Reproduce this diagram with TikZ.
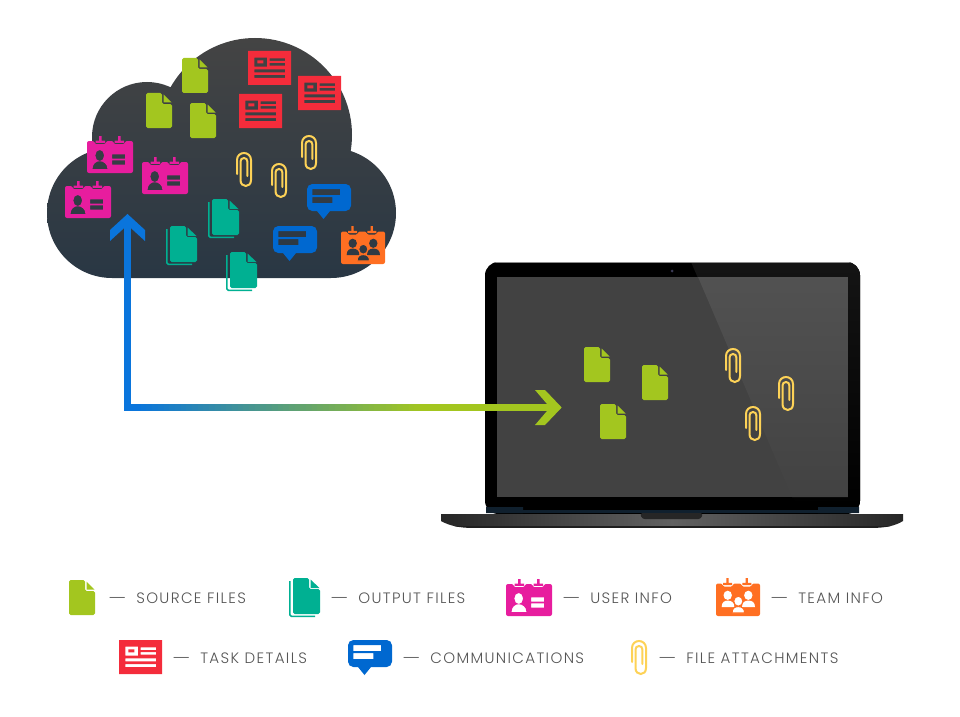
\documentclass[tikz,border=0pt]{standalone}
\usepackage{fontspec}
\newfontfamily\legendfont[LetterSpace=9,UprightFont=* Light]{Poppins}
\newcommand{\legdash}{\scalebox{1.4}[1]{—}\hspace{7.6pt}}
\definecolor{srcgreen}{HTML}{A3C61F}
\definecolor{outteal}{HTML}{00B092}
\definecolor{userpink}{HTML}{E71D9E}
\definecolor{teamorange}{HTML}{FF6F22}
\definecolor{taskred}{HTML}{F42C3B}
\definecolor{commblue}{HTML}{0068D0}
\definecolor{clipyellow}{HTML}{FDD257}
\definecolor{flowblue}{HTML}{0A75DC}
\definecolor{flowgreen}{HTML}{A3C61F}
\definecolor{legendgray}{HTML}{555555}
\definecolor{cloudtop}{HTML}{444444}
\definecolor{cloudlow}{HTML}{293744}
\definecolor{cloudmid}{HTML}{2F3A44}
\definecolor{hingeblue}{HTML}{10202E}
\definecolor{camdot}{HTML}{3A3A55}
\tikzset{
  legendtext/.style={inner sep=0pt,anchor=base west,text=legendgray,font=\legendfont\fontsize{11.3}{13}\selectfont},
  flowline/.style={line width=5.25pt,line join=miter},
  pics/srcdoc/.style={code={
    \fill[srcgreen,rounded corners=1.2pt] (0,0) -- (16,0) -- (16,11) -- (26,11) -- (26,35) -- (0,35) -- cycle;
    \fill[srcgreen] (17.5,1.5) -- (25.5,9.5) -- (17.5,9.5) -- cycle;
  }},
  pics/outdoc/.style={code={
    \draw[outteal,line width=1.1pt,rounded corners=1.2pt] (0.8,3) -- (0.8,38.4) -- (26,38.4);
    \fill[outteal,rounded corners=1.2pt] (4,0) -- (20,0) -- (20,11) -- (31,11) -- (31,36) -- (4,36) -- cycle;
    \fill[outteal] (21.5,1.5) -- (30.5,10) -- (21.5,10) -- cycle;
  }},
  pics/userbadge/.style={code={
    \fill[userpink,even odd rule]
      [rounded corners=1.5pt] (0,5) -- (7.5,5) -- (7.5,8) -- (19,8) -- (19,5) -- (26.5,5) -- (26.5,8) -- (38,8) -- (38,5) -- (46,5) -- (46,37) -- (0,37) -- cycle
      [sharp corners] (25,18.3) rectangle (38,22.7)
      (25,24.3) rectangle (38,28.7)
      (12.7,19.5) ellipse (4.4 and 5.6)
      (5.5,33) .. controls (5.5,28) and (9,25.2) .. (12.7,25.2) .. controls (16.5,25.2) and (20.5,28) .. (20.5,33) -- cycle;
    \fill[userpink] (12,0) rectangle (14.5,5.5) (8.5,4.6) rectangle (18,6.8) (31,0) rectangle (33.5,5.5) (27.5,4.6) rectangle (37,6.8);
  }},
  pics/teambadge/.style={code={
    \fill[teamorange,rounded corners=1.5pt]
      (0,5.5) -- (6.5,5.5) -- (6.5,8.5) -- (17,8.5) -- (17,5.5) -- (25.5,5.5) -- (25.5,8.5) -- (36,8.5) -- (36,5.5) -- (44,5.5) -- (44,38) -- (0,38) -- cycle;
    \fill[teamorange] (10.3,0) rectangle (12.6,5.5) (7,4.9) rectangle (16,7.1) (29.6,0) rectangle (31.9,5.5) (26.3,4.9) rectangle (35.3,7.1);
    \fill[#1] (11.7,17.3) ellipse (4.2 and 4.6) (32.3,17.3) ellipse (4.2 and 4.6);
    \fill[#1] (5.7,29) .. controls (5.7,24) and (8.5,22.6) .. (11.7,22.6) .. controls (15.2,22.6) and (18.3,24) .. (18.3,29) -- cycle;
    \fill[#1] (26,29) .. controls (26,24) and (29,22.6) .. (32.3,22.6) .. controls (35.8,22.6) and (39,24) .. (39,29) -- cycle;
    \filldraw[fill=#1,draw=teamorange,line width=0.8pt] (16,35) .. controls (16,30) and (19,28.6) .. (22.3,28.6) .. controls (25.6,28.6) and (28.6,30) .. (28.6,35) -- cycle;
    \filldraw[fill=#1,draw=teamorange,line width=0.8pt] (22.3,23.2) ellipse (4.6 and 5);
  }},
  pics/taskcard/.style={code={
    \fill[taskred,even odd rule]
      (0,0) rectangle (43,34)
      (6.3,6.7) rectangle (19,15.7)
      (9.3,9.3) rectangle (15.3,12.3)
      (21.7,7.3) rectangle (37,10)
      (21.7,12) rectangle (37,14.7)
      (6.3,18.3) rectangle (37,21.3)
      (6.3,24) rectangle (37,27);
  }},
  pics/commbubble/.style={code={
    \fill[commblue,even odd rule]
      [rounded corners=4pt] (0,0) -- (44,0) -- (44,27) [sharp corners] -- (23,27) -- (16.5,35) -- (10,27) [rounded corners=4pt] -- (0,27) -- cycle
      [sharp corners] (5.3,5) rectangle (33,11)
      (5.3,13) rectangle (25.3,19);
  }},
  pics/fileclip/.style={code={
    \draw[clipyellow,line width=1.5pt,line cap=round]
      (1,22) -- (1,8) .. controls (1,3.6) and (4.5,1) .. (8,1) .. controls (11.5,1) and (15,3.6) .. (15,8)
      -- (15,28) .. controls (15,32) and (12.5,34) .. (9.8,34) .. controls (7,34) and (4.5,32) .. (4.5,28)
      -- (4.5,9.5) .. controls (4.5,7.5) and (6,6) .. (8,6) .. controls (10,6) and (11.4,7.5) .. (11.4,9.5) -- (11.4,24);
  }},
}
\begin{document}
\begin{tikzpicture}[x=0.75pt,y=-0.75pt]
  \useasboundingbox (0,0) rectangle (960,717);
  % cloud
  \shade[top color=cloudtop,bottom color=cloudlow]
    (255,135) circle (97) (147,137) circle (55) (112,213) circle (65) (331,213) circle (65)
    (331,140) rectangle (112,278);
  \pic (srcA) at (182,58) {srcdoc};
  \pic (srcB) at (146,93) {srcdoc};
  \pic (srcC) at (190,103) {srcdoc};
  \pic (taskA) at (248,51) {taskcard};
  \pic (taskB) at (298,76) {taskcard};
  \pic (taskC) at (239,94) {taskcard};
  \pic (userA) at (87,136) {userbadge};
  \pic (userB) at (142,157) {userbadge};
  \pic (userC) at (65,181) {userbadge};
  \pic (clipA) at (236,152) {fileclip};
  \pic (clipB) at (271,163) {fileclip};
  \pic (clipC) at (301,135) {fileclip};
  \pic (commA) at (307,184) {commbubble};
  \pic (commB) at (273,226) {commbubble};
  \pic (teamA) at (341,226) {teambadge=cloudmid};
  \pic (outA) at (208,199) {outdoc};
  \pic (outB) at (166,226) {outdoc};
  \pic (outC) at (226,252) {outdoc};
  % laptop
  \fill[black,rounded corners=10pt] (485,262) -- (860,262) -- (860,514) -- (485,514) -- cycle;
  \begin{scope}
    \clip[rounded corners=10pt] (485,262) -- (860,262) -- (860,514) -- (485,514) -- cycle;
    \shade[top color=black!92!white,bottom color=black] (691,262) -- (860,262) -- (860,507) -- (797,507) -- cycle;
    \draw[black!45!white,line width=0.8pt] (485,262.5) -- (860,262.5);
  \end{scope}
  \fill[black!74!white] (497,277) rectangle (848,497);
  \shade[top color=black!68!white,bottom color=black!74!white] (698,277) -- (848,277) -- (848,497) -- (792,497) -- cycle;
  \fill[camdot] (672,271) circle (1.5);
  \fill[hingeblue] (486,507) rectangle (523,513) (818,507) rectangle (859,513);
  \fill[hingeblue] (523,509.5) rectangle (818,513);
  \begin{scope}
    \clip (441,514) -- (903,514) -- (903,521) .. controls (895,526) and (885,528) .. (870,528) -- (474,528) .. controls (460,528) and (450,526) .. (441,521) -- cycle;
    \shade[left color=black!85!white,right color=black!85!white,middle color=black!62!white] (441,514) rectangle (903,526);
    \fill[black!88!white] (441,525.5) rectangle (903,528);
  \end{scope}
  \fill[black!85!white,rounded corners=2pt] (640,513) -- (703,513) -- (701,519) -- (642,519) -- cycle;
  \pic (srcD) at (584,347) {srcdoc};
  \pic (srcE) at (642,365) {srcdoc};
  \pic (srcF) at (600,404) {srcdoc};
  \pic (clipD) at (725,348) {fileclip};
  \pic (clipE) at (778,376) {fileclip};
  \pic (clipF) at (745,406) {fileclip};
  % flow between cloud and laptop
  \coordinate (cloudend) at (127.5,225);
  \coordinate (corner) at (127.5,407.5);
  \coordinate (fadestart) at (135,407.5);
  \coordinate (fadeend) at (420,407.5);
  \coordinate (laptopend) at (550,407.5);
  \draw[flowline,flowblue] (cloudend) -- (corner) -- (fadestart);
  \foreach \p [evaluate=\p as \x using 135+2.85*\p] in {0,2,...,98}
    \draw[flowline,flowgreen!\p!flowblue] (\x,407.5) -- (\x+6.5,407.5);
  \draw[flowline,flowgreen] (fadeend) -- (laptopend);
  \fill[flowblue] (127.5,214) -- (145,230) -- (145,241) -- (cloudend) -- (110,241) -- (110,230) -- cycle;
  \fill[flowgreen] (535,390) -- (545,390) -- (561.7,407.5) -- (545,425) -- (535,425) -- (laptopend) -- cycle;
  % legend
  \pic (legsrc) at (69,580) {srcdoc};
  \node[legendtext] (txtsrc) at (108,603) {\legdash SOURCE FILES};
  \pic (legout) at (289,578) {outdoc};
  \node[legendtext] (txtout) at (330,603) {\legdash OUTPUT FILES};
  \pic (leguser) at (506,579) {userbadge};
  \node[legendtext] (txtuser) at (562,603) {\legdash USER INFO};
  \pic (legteam) at (716,578) {teambadge=white};
  \node[legendtext] (txtteam) at (770,603) {\legdash TEAM INFO};
  \pic (legtask) at (119,640) {taskcard};
  \node[legendtext] (txttask) at (172,663) {\legdash TASK DETAILS};
  \pic (legcomm) at (348,640) {commbubble};
  \node[legendtext] (txtcomm) at (402,663) {\legdash COMMUNICATIONS};
  \pic (legclip) at (631,640) {fileclip};
  \node[legendtext] (txtclip) at (658,663) {\legdash FILE ATTACHMENTS};
\end{tikzpicture}
\end{document}
